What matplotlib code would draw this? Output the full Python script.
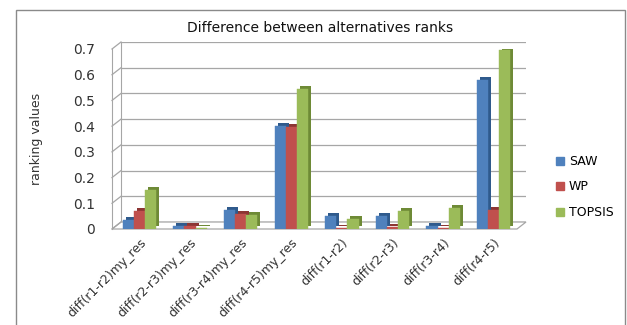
import numpy as np
import matplotlib.pyplot as plt
from matplotlib.patches import Rectangle, Polygon, Patch
import matplotlib.patheffects as pe

# data
categories = ['diff(r1-r2)my_res', 'diff(r2-r3)my_res', 'diff(r3-r4)my_res', 'diff(r4-r5)my_res',
              'diff(r1-r2)', 'diff(r2-r3)', 'diff(r3-r4)', 'diff(r4-r5)']
saw = [0.035, 0.013, 0.072, 0.400, 0.050, 0.052, 0.010, 0.578]
wp = [0.070, 0.010, 0.058, 0.395, 0.004, 0.006, 0.004, 0.072]
topsis = [0.150, 0.005, 0.055, 0.545, 0.040, 0.070, 0.082, 0.695]
yticks = [0, 0.1, 0.2, 0.3, 0.4, 0.5, 0.6, 0.7]

series = [('SAW', saw, '#4F81BD', '#2F5A8C'),
          ('WP', wp, '#C0504D', '#8C3533'),
          ('TOPSIS', topsis, '#9BBB59', '#6E8A36')]

W, H = 627, 325
fig = plt.figure(figsize=(W / 100, H / 100), dpi=100)

# outer chart frame
fig.patches.append(Rectangle((16 / W, -0.1), (625 - 16) / W, 1.1 - 10 / H,
                             transform=fig.transFigure, fill=False,
                             edgecolor='#8A8A8A', linewidth=1.0))

fl, fr, fb, ft = 112, 517, 229, 49   # front plane in pixels
dxp, dyp = 9, 7                       # depth of the back wall

# back wall with gridlines
axb = fig.add_axes([(fl + dxp) / W, (H - fb + dyp) / H, (fr - fl) / W, (fb - ft) / H])
axb.set_ylim(0, 0.7)
axb.set_xlim(-0.5, 7.5)
axb.set_yticks(yticks)
axb.set_xticks([])
axb.yaxis.grid(True, color='#A6A6A6', linewidth=0.9)
axb.tick_params(left=False, labelleft=False)
for s in ['top', 'right', 'bottom']:
    axb.spines[s].set_visible(False)
axb.spines['left'].set_color('#A6A6A6')
axb.patch.set_alpha(0)

# front plane with bars
ax = fig.add_axes([fl / W, (H - fb) / H, (fr - fl) / W, (fb - ft) / H])
ax.patch.set_alpha(0)
ax.set_ylim(0, 0.7)
ax.set_xlim(-0.5, 7.5)

# floor
ddx, ddy = dxp / (fr - fl), dyp / (fb - ft)
ax.add_patch(Polygon([(0, 0), (1, 0), (1 + ddx, ddy), (ddx, ddy)], closed=True,
                     transform=ax.transAxes, facecolor='white', edgecolor='#A6A6A6',
                     linewidth=0.9, clip_on=False, zorder=0.5))
for v in yticks:
    ax.plot([0, ddx], [v / 0.7, v / 0.7 + ddy], transform=ax.transAxes,
            color='#A6A6A6', linewidth=0.9, clip_on=False, zorder=0.6)

x = np.arange(len(categories))
bw = 0.22
for i, (name, vals, col, dark) in enumerate(series):
    bars = ax.bar(x + (i - 1) * bw + 0.04, vals, bw, color=col, label=name,
                  edgecolor=col, linewidth=0.3, zorder=2 + i)
    # pseudo 3D side faces
    for b in bars:
        b.set_path_effects([pe.SimplePatchShadow(offset=(2.2, 2.2), shadow_rgbFace=dark, alpha=1.0),
                            pe.Normal()])

ax.set_yticks(yticks)
ax.set_yticklabels(['0', '0.1', '0.2', '0.3', '0.4', '0.5', '0.6', '0.7'], fontsize=10, color='#333333')
ax.tick_params(axis='y', length=0, pad=12)
ax.set_xticks(x + 0.04)
ax.set_xticklabels(categories, rotation=45, ha='right', rotation_mode='anchor',
                   fontsize=9, color='#333333')
ax.tick_params(axis='x', length=0, pad=5)
for s in ['top', 'right', 'bottom']:
    ax.spines[s].set_visible(False)
ax.spines['left'].set_color('#A6A6A6')

ax.set_ylabel('ranking values', fontsize=9, color='#333333', labelpad=22)

fig.text(320 / W, 1 - 28 / H, 'Difference between alternatives ranks', ha='center', va='center',
         fontsize=10, color='#111111')

leg_handles = [Patch(facecolor=c, edgecolor=c) for _, _, c, _ in series]
fig.legend(leg_handles, [s[0] for s in series], loc='center left',
           bbox_to_anchor=(545 / W, 1 - 187 / H),
           frameon=False, fontsize=9, handlelength=0.6, handleheight=0.6,
           handletextpad=0.4, labelspacing=1.0)

fig.savefig('out.png', dpi=100)
